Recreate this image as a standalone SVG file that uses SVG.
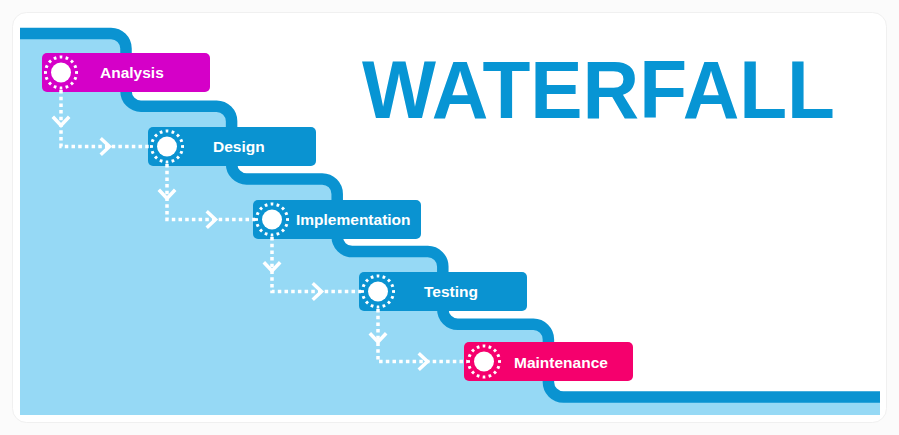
<svg xmlns="http://www.w3.org/2000/svg" width="899" height="435" viewBox="0 0 899 435">
  <defs>
    <style>
      .box-blue { fill: #0a93d1; }
      .box-magenta { fill: #d500c8; }
      .box-pink { fill: #f5006d; }
      .disc { fill: #ffffff; }
      .ring { fill: none; stroke: #ffffff; stroke-width: 3; stroke-dasharray: 0.45 0.55; stroke-dashoffset: 0.225; }
      .label { font-family: "Liberation Sans", Arial, sans-serif; font-weight: bold; font-size: 15.5px; fill: #ffffff; }
      .dots { fill: none; stroke: #ffffff; stroke-width: 3.5; stroke-dasharray: 3.5 3.2; }
      .chev { fill: none; stroke: #ffffff; stroke-width: 3.5; stroke-linecap: square; stroke-linejoin: miter; }
      .band { fill: none; stroke: #0a93d1; stroke-width: 11.5; }
    </style>
    <clipPath id="content">
      <rect x="20" y="20" width="860" height="395"/>
    </clipPath>
  </defs>

  <!-- background & card -->
  <rect x="0" y="0" width="899" height="435" fill="#fbfbfb"/>
  <rect x="12.5" y="12.5" width="874" height="410" rx="14" fill="#ffffff" stroke="#f0f0f0" stroke-width="1"/>

  <!-- staircase -->
  <g id="staircase" clip-path="url(#content)">
    <rect x="20" y="20" width="860" height="395" fill="#ffffff"/>
    <path fill="#96d9f5" d="M20,33.5 H111 A15,15 0 0 1 126,48.5 V91.2 A15,15 0 0 0 141,106.2 H216.6 A15,15 0 0 1 231.6,121.2 V163.9 A15,15 0 0 0 246.6,178.9 H322.2 A15,15 0 0 1 337.2,193.9 V236.6 A15,15 0 0 0 352.2,251.6 H427.8 A15,15 0 0 1 442.8,266.6 V309.3 A15,15 0 0 0 457.8,324.3 H533.4 A15,15 0 0 1 548.4,339.3 V382 A15,15 0 0 0 563.4,397 H885 V420 H15 V33.5 Z"/>
    <path class="band" d="M15,33.5 H111 A15,15 0 0 1 126,48.5 V91.2 A15,15 0 0 0 141,106.2 H216.6 A15,15 0 0 1 231.6,121.2 V163.9 A15,15 0 0 0 246.6,178.9 H322.2 A15,15 0 0 1 337.2,193.9 V236.6 A15,15 0 0 0 352.2,251.6 H427.8 A15,15 0 0 1 442.8,266.6 V309.3 A15,15 0 0 0 457.8,324.3 H533.4 A15,15 0 0 1 548.4,339.3 V382 A15,15 0 0 0 563.4,397 H885"/>
  </g>

  <!-- title -->
  <text id="title" x="362" y="118" font-family="'Liberation Sans', Arial, sans-serif" font-weight="bold" font-size="81" fill="#0795d4" textLength="473" lengthAdjust="spacingAndGlyphs">WATERFALL</text>

  <!-- nodes -->
  <g id="node-analysis">
    <rect class="box-magenta" x="42" y="53" width="168" height="39" rx="5"/>
    <circle class="disc" cx="61" cy="72.5" r="10"/>
    <circle class="ring" cx="61" cy="72.5" r="15.5" pathLength="16"/>
    <text class="label" x="100" y="78">Analysis</text>
  </g>
  <g id="node-design">
    <rect class="box-blue" x="148" y="127" width="168" height="39" rx="5"/>
    <circle class="disc" cx="167" cy="146.5" r="10"/>
    <circle class="ring" cx="167" cy="146.5" r="15.5" pathLength="16"/>
    <text class="label" x="213" y="151.5">Design</text>
  </g>
  <g id="node-implementation">
    <rect class="box-blue" x="253" y="200" width="168" height="39" rx="5"/>
    <circle class="disc" cx="272" cy="219.5" r="10"/>
    <circle class="ring" cx="272" cy="219.5" r="15.5" pathLength="16"/>
    <text class="label" x="296" y="225">Implementation</text>
  </g>
  <g id="node-testing">
    <rect class="box-blue" x="359" y="272" width="168" height="39" rx="5"/>
    <circle class="disc" cx="378" cy="291.5" r="10"/>
    <circle class="ring" cx="378" cy="291.5" r="15.5" pathLength="16"/>
    <text class="label" x="424" y="297">Testing</text>
  </g>
  <g id="node-maintenance">
    <rect class="box-pink" x="464" y="342" width="169" height="39" rx="5"/>
    <circle class="disc" cx="484" cy="361.5" r="10"/>
    <circle class="ring" cx="484" cy="361.5" r="15.5" pathLength="16"/>
    <text class="label" x="514" y="367.5">Maintenance</text>
  </g>

  <!-- connectors -->
  <g id="connectors">
    <path class="dots" d="M61,90 V146.5 H149"/>
    <path class="chev" d="M54,118 L61,125.5 L68,118"/>
    <path class="chev" d="M102,139.5 L109.5,146.5 L102,153.5"/>

    <path class="dots" d="M167,164 V219.5 H255"/>
    <path class="chev" d="M160,191 L167,198.5 L174,191"/>
    <path class="chev" d="M208,212.5 L215.5,219.5 L208,226.5"/>

    <path class="dots" d="M272,237 V291.5 H361"/>
    <path class="chev" d="M265,263.5 L272,271 L279,263.5"/>
    <path class="chev" d="M314,284.5 L321.5,291.5 L314,298.5"/>

    <path class="dots" d="M378,309 V361.5 H467"/>
    <path class="chev" d="M371,334.5 L378,342 L385,334.5"/>
    <path class="chev" d="M420,354.5 L427.5,361.5 L420,368.5"/>
  </g>
</svg>
